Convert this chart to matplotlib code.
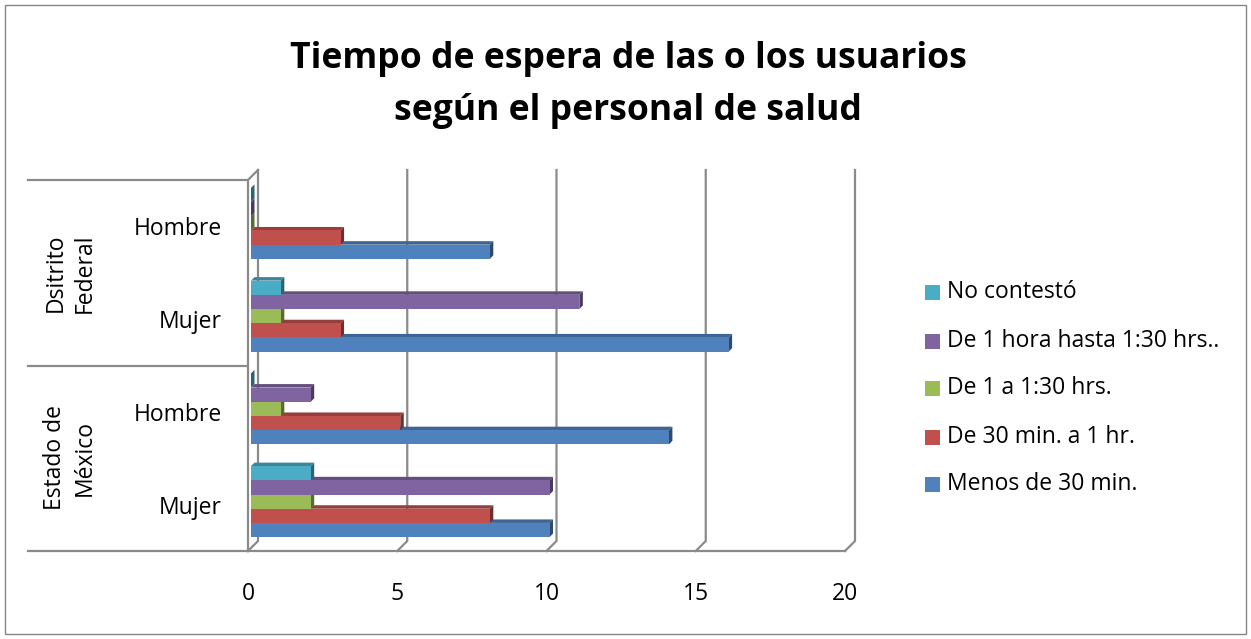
import matplotlib
matplotlib.use('Agg')
import matplotlib.pyplot as plt
from matplotlib.patches import Polygon, Rectangle
from matplotlib.lines import Line2D
import matplotlib.colors as mcolors

plt.rcParams['font.family'] = ['Open Sans', 'DejaVu Sans']

title = "Tiempo de espera de las o los usuarios\nsegún el personal de salud"
categories = ["Mujer", "Hombre", "Mujer", "Hombre"]
groups = ["Estado de\nMéxico", "Dsitrito\nFederal"]
series_names = ["Menos de 30 min.", "De 30 min. a 1 hr.", "De 1 a 1:30 hrs.",
                "De 1 hora hasta 1:30 hrs..", "No contestó"]
menos_30 = [10, 14, 16, 8]
de_30_a_1 = [8, 5, 3, 3]
de_1_a_130 = [2, 1, 1, 0]
de_1h_hasta_130 = [10, 2, 11, 0]
no_contesto = [2, 0, 1, 0]
series_values = [menos_30, de_30_a_1, de_1_a_130, de_1h_hasta_130, no_contesto]
colors = ["#4F81BD", "#C0504D", "#9BBB59", "#8064A2", "#4BACC6"]
xticks = [0, 5, 10, 15, 20]

W, H = 1251, 639
fig = plt.figure(figsize=(W / 100, H / 100), dpi=100)

def fx(px):
    return px / W

def fy(py):
    return 1 - py / H

# front frame of plot area in pixels
X0, X1 = 248, 845
Y0, Y1 = 180, 551
ax = fig.add_axes([fx(X0), fy(Y1), (X1 - X0) / W, (Y1 - Y0) / H])
ax.set_xlim(0, 20)
ax.set_ylim(-0.5, 3.5)
for s in ax.spines.values():
    s.set_visible(False)
sx = 20 / (X1 - X0)
sy = 4 / (Y1 - Y0)

grid_c = "#8a8a8a"
D = 10  # wall depth px
ybot_back = -0.5 + D * sy
ytop_back = 3.5 + D * sy
for t in xticks:
    xb = t + D * sx
    ax.add_line(Line2D([xb, xb, t], [ytop_back, ybot_back, -0.5], color=grid_c,
                       lw=1.6, clip_on=False, zorder=1, solid_joinstyle='miter'))
# left wall front edge and top
ax.add_line(Line2D([D * sx, 0, 0], [ytop_back, 3.5, -0.5], color=grid_c, lw=1.6,
                   clip_on=False, zorder=1))
# floor front edge
ax.add_line(Line2D([0, 20], [-0.5, -0.5], color=grid_c, lw=1.6, clip_on=False, zorder=1))

def shade(c, f):
    r, g, b = mcolors.to_rgb(c)
    return (r * f, g * f, b * f)

ox, oy = 3 * sx, 3 * sy
dbx, dby = 3.5 * sx, 3.5 * sy
hb = 14.2 * sy
z = 2
for i in range(len(categories)):
    for k, vals in enumerate(series_values):
        v = vals[i]
        c = colors[k]
        yb = i - 2.5 * hb + k * hb + oy
        yt = yb + hb
        xl = ox
        xr = ox + v
        top = Polygon([(xl, yt), (xr, yt), (xr + dbx, yt + dby), (xl + dbx, yt + dby)],
                      closed=True, facecolor=shade(c, 0.78), edgecolor='none', zorder=z)
        side = Polygon([(xr, yb), (xr + dbx, yb + dby), (xr + dbx, yt + dby), (xr, yt)],
                       closed=True, facecolor=shade(c, 0.58), edgecolor='none', zorder=z)
        ax.add_patch(top)
        ax.add_patch(side)
        if v > 0:
            ax.add_patch(Rectangle((xl, yb), v, hb, facecolor=c, edgecolor='none', zorder=z + 0.5))
        z += 1

ax.set_xticks(xticks)
ax.set_xticklabels([str(t) for t in xticks])
ax.set_yticks(range(len(categories)))
ax.set_yticklabels(categories)
ax.tick_params(axis='x', length=0, pad=22, labelsize=16.5)
ax.tick_params(axis='y', length=0, pad=19, labelsize=16.5)

# category table lines on left
for py in [180, 365.7, 551]:
    fig.add_artist(Line2D([fx(28), fx(247)], [fy(py), fy(py)], color=grid_c, lw=1.6))

fig.text(fx(70), fy(458), groups[0], rotation=90, ha='center', va='center',
         multialignment='center', fontsize=16.5, linespacing=1.3)
fig.text(fx(70), fy(273), groups[1], rotation=90, ha='center', va='center',
         multialignment='center', fontsize=16.5, linespacing=1.3)

# title
fig.text(fx(628), fy(85), title, ha='center', va='center', fontsize=25.6,
         fontweight='bold', linespacing=1.6)

# legend
leg_y = [484, 437, 388, 341, 292]
for k in range(len(series_names)):
    fig.add_artist(Rectangle((fx(925), fy(leg_y[k] + 7.5)), 15 / W, 15 / H,
                             facecolor=colors[k], edgecolor='none'))
    fig.text(fx(947), fy(leg_y[k]), series_names[k], ha='left', va='center', fontsize=16.5)

# outer border
fig.add_artist(Rectangle((fx(5), fy(634)), 1241 / W, 629 / H, fill=False,
                         edgecolor='#868686', lw=1))

fig.savefig('out.png', dpi=100)
